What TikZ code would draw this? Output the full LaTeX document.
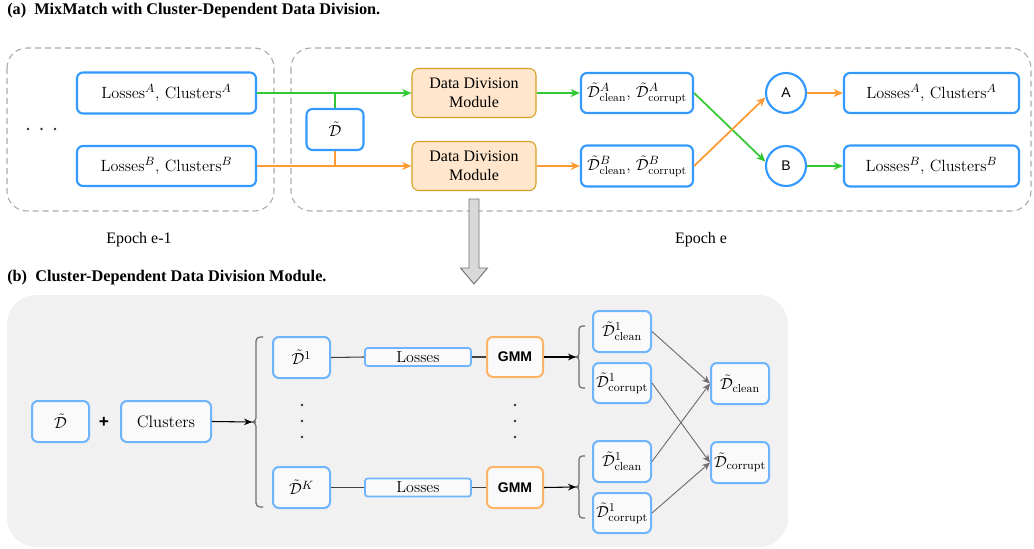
\documentclass[tikz,border=0pt]{standalone}
\usepackage{fontspec}
\usetikzlibrary{arrows.meta}
\newfontfamily\tms{Liberation Serif}
\newfontfamily\hv{Liberation Sans}
\definecolor{blueA}{RGB}{51,153,255}
\definecolor{blueB}{RGB}{110,180,255}
\definecolor{ddfill}{RGB}{255,230,204}
\definecolor{dddraw}{RGB}{215,160,30}
\definecolor{grn}{RGB}{50,200,50}
\definecolor{org}{RGB}{255,153,51}
\definecolor{dgray}{RGB}{170,170,170}
\definecolor{bgc}{RGB}{241,241,241}
\definecolor{gmmc}{RGB}{255,179,102}
\definecolor{boxfill}{RGB}{250,250,250}
\definecolor{lgray}{RGB}{110,110,110}
\newcommand{\Dt}{\tilde{\mathcal{D}}}
\tikzset{
  sz/.style 2 args={minimum width=#1*0.75pt, minimum height=#2*0.75pt},
  boxa/.style={draw=blueA, line width=1.6pt, fill=white, rounded corners=4.5pt, inner sep=0pt, font=\fontsize{12.2}{14}\selectfont},
  boxb/.style={draw=blueB, line width=1.5pt, fill=boxfill, rounded corners=4.5pt, inner sep=0pt, font=\fontsize{12.5}{14}\selectfont},
  ddm/.style={draw=dddraw, line width=0.8pt, fill=ddfill, rounded corners=5pt, inner sep=0pt, align=center, font=\tms\fontsize{12}{14.5}\selectfont},
  gmm/.style={draw=gmmc, line width=1.5pt, fill=boxfill, rounded corners=4.5pt, inner sep=0pt, font=\hv\bfseries\fontsize{10.5}{12}\selectfont},
  circ/.style={circle, draw=blueA, line width=1.6pt, fill=white, inner sep=0pt, minimum size=30pt, font=\hv\fontsize{10.5}{12}\selectfont},
  dashbox/.style={draw=dgray, line width=0.8pt, dash pattern=on 4.5pt off 3pt, rounded corners=15pt},
  garr/.style={draw=grn, line width=1.3pt, -{Stealth[length=7pt,width=6pt]}},
  oarr/.style={draw=org, line width=1.3pt, -{Stealth[length=7pt,width=6pt]}},
  gline/.style={draw=grn, line width=1.5pt},
  oline/.style={draw=org, line width=1.5pt},
  kline/.style={draw=black!75, line width=0.8pt},
  karr/.style={draw=black, line width=0.8pt, -{Stealth[length=6pt,width=5pt]}},
  larr/.style={draw=lgray, line width=0.7pt, -{Stealth[length=6pt,width=5pt]}},
  brace/.style={draw=lgray, line width=0.9pt, rounded corners=3pt},
  ttl/.style={anchor=west, inner sep=0pt, font=\tms\bfseries\fontsize{12.2}{14}\selectfont},
  epo/.style={inner sep=0pt, font=\tms\fontsize{12}{14}\selectfont},
  dotc/.style={fill=black!80, draw=none},
}
\begin{document}
\begin{tikzpicture}[x=0.75pt, y=-0.75pt]
\useasboundingbox (0,0) rectangle (1034,549);
% ---------- (a) ----------
\node[ttl] (ta) at (7,11) {(a)\ \ MixMatch with Cluster-Dependent Data Division.};
\draw[dashbox] (7,48) rectangle (274,211);
\draw[dashbox] (291,48) rectangle (1031,211);
\foreach \xx in {28,41.5,55} \fill[dotc] (\xx,129) circle (1.4);
\node[boxa, sz={179}{41}] (LA) at (166.5,93) {Losses$^A$, Clusters$^A$};
\node[boxa, sz={179}{40}] (LB) at (166.5,166) {Losses$^B$, Clusters$^B$};
\node[boxa, sz={57}{41}] (Dt) at (335,129.5) {$\Dt$};
\node[ddm, sz={124}{49}] (M1) at (474,93) {Data Division\\Module};
\node[ddm, sz={124}{49}] (M2) at (474,166) {Data Division\\Module};
\node[boxa, sz={112}{40}] (DA) at (637,93) {$\Dt^A_{\mathrm{clean}}$, $\Dt^A_{\mathrm{corrupt}}$};
\node[boxa, sz={112}{41}] (DB) at (637,166) {$\Dt^B_{\mathrm{clean}}$, $\Dt^B_{\mathrm{corrupt}}$};
\node[circ] (cA) at (786,93) {A};
\node[circ] (cB) at (786,166) {B};
\node[boxa, sz={175}{40}] (RA) at (931.5,93) {Losses$^A$, Clusters$^A$};
\node[boxa, sz={175}{41}] (RB) at (931.5,166) {Losses$^B$, Clusters$^B$};
\draw[garr] (LA.east) -- (M1.west);
\draw[gline] (Dt.north) -- (Dt.north |- LA.east);
\draw[oarr] (LB.east) -- (M2.west);
\draw[oline] (Dt.south) -- (Dt.south |- LB.east);
\draw[garr] (M1.east) -- (DA.west);
\draw[oarr] (M2.east) -- (DB.west);
\draw[garr] (DA.east) -- (cB.168);
\draw[oarr] (DB.east) -- (cA.192);
\draw[oarr] (cA.east) -- (RA.west);
\draw[garr] (cB.east) -- (RB.west);
\node[epo] (e1) at (139,240) {Epoch e-1};
\node[epo] (e2) at (701,240) {Epoch e};
\draw[draw=black!55, fill=black!15, line width=0.7pt] (469,199) -- (479,199) -- (479,268) -- (487.5,268) -- (474,284) -- (460.5,268) -- (469,268) -- cycle;
% ---------- (b) ----------
\node[ttl] (tb) at (7,278) {(b)\ \ Cluster-Dependent Data Division Module.};
\fill[bgc, rounded corners=22pt] (7,295) rectangle (788,547);
\node[boxb, sz={57}{41}] (bD) at (60.5,421.5) {$\Dt$};
\node[inner sep=0pt, font=\hv\bfseries\fontsize{13}{14}\selectfont] (pl) at (104,422) {+};
\node[boxb, sz={90}{41}] (Cl) at (166,421.5) {Clusters};
\coordinate (bt) at (252,422);
\draw[brace] (263,337) -- (256,337) -- (256,422) -- (252,422) -- (256,422) -- (256,507) -- (263,507);
\draw[karr] (Cl.east) -- (bt);
\node[boxb, sz={57}{41}] (D1) at (301.5,357.5) {$\Dt^1$};
\node[boxb, sz={57}{41}] (DK) at (301.5,487.5) {$\Dt^K$};
\node[boxb, line width=1.3pt, rounded corners=2pt, sz={106}{18}, font=\fontsize{12}{14}\selectfont] (L1) at (418,357) {Losses};
\node[boxb, line width=1.3pt, rounded corners=2pt, sz={106}{18}, font=\fontsize{12}{14}\selectfont] (LK) at (418,487.5) {Losses};
\node[gmm, sz={56}{40}] (G1) at (515,357) {GMM};
\node[gmm, sz={56}{41}] (GK) at (515,487.5) {GMM};
\foreach \yy in {405,421,437} {\fill[dotc] (302,\yy) circle (1.3); \fill[dotc] (515,\yy) circle (1.3);}
\draw[kline] (D1.east) -- (L1.west);
\draw[kline] (L1.east) -- (G1.west);
\draw[kline] (DK.east) -- (LK.west);
\draw[kline] (LK.east) -- (GK.west);
\coordinate (s1) at (576,357);
\coordinate (s2) at (576,487);
\draw[brace, rounded corners=2.5pt] (585,326) -- (579,326) -- (579,357) -- (576,357) -- (579,357) -- (579,388) -- (585,388);
\draw[brace, rounded corners=2.5pt] (585,456) -- (579,456) -- (579,487) -- (576,487) -- (579,487) -- (579,518) -- (585,518);
\draw[karr] (G1.east) -- (s1);
\draw[karr] (GK.east) -- (s2);
\node[boxb, sz={58}{41}] (C1) at (622,331.5) {$\Dt^1_{\mathrm{clean}}$};
\node[boxb, sz={58}{40}] (R1) at (622,383) {$\Dt^1_{\mathrm{corrupt}}$};
\node[boxb, sz={58}{41}] (C2) at (622,461.5) {$\Dt^1_{\mathrm{clean}}$};
\node[boxb, sz={58}{40}] (R2) at (622,513) {$\Dt^1_{\mathrm{corrupt}}$};
\node[boxb, sz={58}{41}] (Dc) at (740,383.5) {$\Dt_{\mathrm{clean}}$};
\node[boxb, sz={58}{41}] (Dr) at (740,462.5) {$\Dt_{\mathrm{corrupt}}$};
\draw[larr] (C1.east) -- (Dc.west);
\draw[larr] (R1.east) -- (Dr.west);
\draw[larr] (C2.east) -- (Dc.west);
\draw[larr] (R2.east) -- (Dr.west);
\end{tikzpicture}
\end{document}
